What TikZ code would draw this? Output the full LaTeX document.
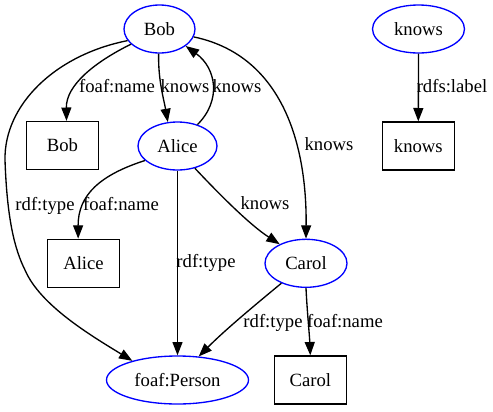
\documentclass[tikz,border=0pt]{standalone}
\usepackage{fontspec}
\setmainfont{Liberation Serif}
\usetikzlibrary{arrows.meta,shapes.geometric}
\begin{document}
\begin{tikzpicture}[x=0.75pt,y=-0.75pt,
  font=\fontsize{14}{16}\selectfont, line width=1pt,
  res/.style={ellipse, draw=blue, inner sep=0pt, minimum height=36pt},
  lit/.style={rectangle, draw=black, inner sep=0pt, minimum width=54pt, minimum height=36pt},
  lbl/.style={inner sep=0pt, text height=9.5pt, text depth=3pt, yshift=-1.2pt},
  conn/.style={draw, -{Triangle[length=10pt,width=7.5pt]}}]
\useasboundingbox (0,0) rectangle (493,411);
% resources
\node[res, minimum width=53.25pt] (bob) at (159.5,29) {Bob};
\node[res, minimum width=59.25pt] (alice) at (177.5,146) {Alice};
\node[res, minimum width=69pt] (knows) at (418.5,29) {knows};
\node[res, minimum width=106.5pt] (person) at (177.5,380) {foaf:Person};
\node[res, minimum width=61.5pt] (carol) at (306,263.3) {Carol};
% literals
\node[lit] (bobL) at (62.5,145.5) {Bob};
\node[lit] (aliceL) at (83.5,263.3) {Alice};
\node[lit] (knowsL) at (418.3,146) {knows};
\node[lit] (carolL) at (310.3,380) {Carol};
% edges
\draw[conn] (bob.208) .. controls (95,62) and (66,85) .. ([xshift=3pt]bobL.north);
\draw[conn] (bob.268) .. controls (158,80) and (164,100) .. (alice.112);
\draw[conn] (alice.47) .. controls (222,100) and (216,68) .. (bob.327);
\draw[conn] (bob.347) .. controls (280,55) and (307,140) .. (carol.north);
\draw[conn] (bob.200) .. controls (55,55) and (4,105) .. (5,160)
  .. controls (7,220) and (15,250) .. (25,270)
  .. controls (40,305) and (90,335) .. (person.157);
\draw[conn] (alice.204) .. controls (100,175) and (78,195) .. ([xshift=-4pt]aliceL.north);
\draw[conn] (alice.south) -- (person.north);
\draw[conn] (alice.308) .. controls (220,195) and (250,225) .. (carol.144);
\draw[conn] (carol.219) .. controls (255,305) and (225,330) .. (person.48);
\draw[conn] (carol.south) .. controls (307,310) and (309.5,335) .. (carolL.north);
\draw[conn] (knows.south) -- (knowsL.north);
% labels
\node[lbl] (l1) at (117,87) {foaf:name};
\node[lbl] (l2) at (185,87) {knows};
\node[lbl] (l3) at (237,87) {knows};
\node[lbl] (l4) at (329,145) {knows};
\node[lbl] (l5) at (45,205) {rdf:type};
\node[lbl] (l6) at (121,205) {foaf:name};
\node[lbl] (l7) at (206,262) {rdf:type};
\node[lbl] (l8) at (265,204) {knows};
\node[lbl] (l9) at (273,322) {rdf:type};
\node[lbl] (l10) at (345,322) {foaf:name};
\node[lbl] (l11) at (452,87) {rdfs:label};
\end{tikzpicture}
\end{document}
